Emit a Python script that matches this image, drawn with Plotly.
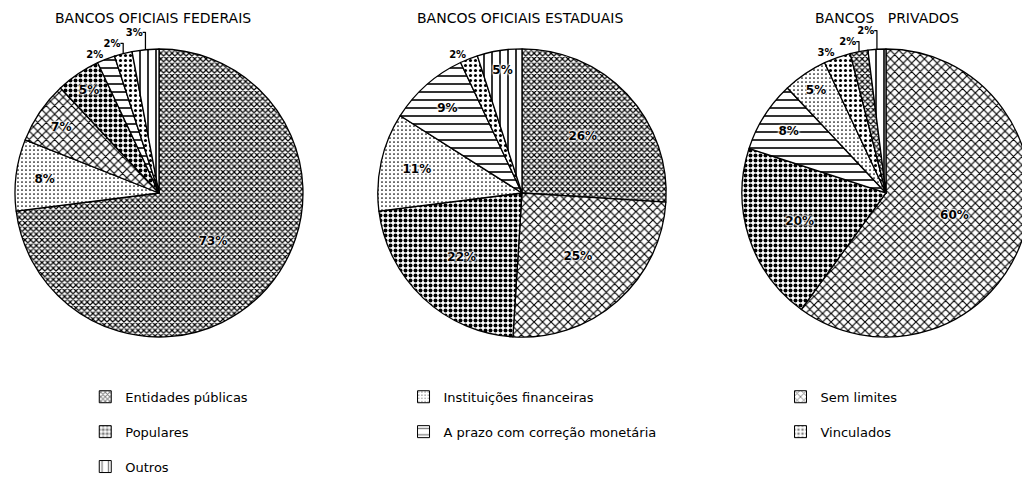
import plotly.graph_objects as go

# Categories (order = clockwise from 12 o'clock in the first chart)
categorias = ['Entidades públicas', 'Instituições financeiras', 'Sem limites',
              'Populares', 'A prazo com correção monetária', 'Vinculados', 'Outros']

# Shares (%) by type of bank
federais_labels = ['Entidades públicas', 'Instituições financeiras', 'Sem limites', 'Populares',
                   'A prazo com correção monetária', 'Vinculados', 'Outros']
federais_values = [73, 8, 7, 5, 2, 2, 3]

estaduais_labels = ['Entidades públicas', 'Sem limites', 'Populares', 'Instituições financeiras',
                    'A prazo com correção monetária', 'Vinculados', 'Outros']
estaduais_values = [26, 25, 22, 11, 9, 2, 5]

privados_labels = ['Sem limites', 'Populares', 'A prazo com correção monetária',
                   'Instituições financeiras', 'Vinculados', 'Entidades públicas', 'Outros']
privados_values = [60, 20, 8, 5, 3, 2, 2]

titulos = ['BANCOS OFICIAIS FEDERAIS', 'BANCOS OFICIAIS ESTADUAIS', 'BANCOS\u00a0\u00a0\u00a0PRIVADOS']

# black & white hatch patterns for each category
padroes = {
    'Entidades públicas': dict(shape='x', size=4, solidity=0.5),
    'Instituições financeiras': dict(shape='.', size=4, solidity=0.15),
    'Sem limites': dict(shape='x', size=6, solidity=0.35),
    'Populares': dict(shape='.', size=5, solidity=0.5),
    'A prazo com correção monetária': dict(shape='-', size=8, solidity=0.2),
    'Vinculados': dict(shape='.', size=5, solidity=0.3),
    'Outros': dict(shape='|', size=8, solidity=0.2),
}


def pattern_for(labels):
    return dict(shape=[padroes[l]['shape'] for l in labels],
                size=[padroes[l]['size'] for l in labels],
                solidity=[padroes[l]['solidity'] for l in labels],
                fgcolor='black', bgcolor='white', fillmode='replace')


def text_pos(values):
    return ['inside' if v >= 5 else 'outside' for v in values]


halo = '0px 0px 2px white, 0px 0px 2px white, 0px 0px 3px white, 0px 0px 3px white'

fig = go.Figure()

pies = [
    (federais_labels, federais_values, [0.0068, 0.2864]),
    (estaduais_labels, estaduais_values, [0.359, 0.639]),
    (privados_labels, privados_values, [0.7126, 0.9922]),
]
for labels, values, xdom in pies:
    fig.add_trace(go.Pie(
        labels=labels, values=values, sort=False, direction='clockwise', rotation=0,
        domain=dict(x=xdom, y=[0.308, 0.918]),
        marker=dict(colors=['white'] * len(values), pattern=pattern_for(labels),
                    line=dict(color='black', width=1.3)),
        texttemplate='%{value}%', textposition=text_pos(values),
        insidetextorientation='horizontal',
        insidetextfont=dict(family='DejaVu Sans', size=12, color='black', weight='bold', shadow=halo),
        outsidetextfont=dict(family='DejaVu Sans', size=10, color='black', weight='bold'),
        showlegend=False, hovertemplate='%{label}: %{value}%<extra></extra>'))

# legend entries (three columns as in the original)
colunas = {
    'legend': ['Entidades públicas', 'Populares', 'Outros'],
    'legend2': ['Instituições financeiras', 'A prazo com correção monetária'],
    'legend3': ['Sem limites', 'Vinculados'],
}
for leg, cats in colunas.items():
    for c in cats:
        p = padroes[c]
        fig.add_trace(go.Bar(
            x=[None], y=[None], name=c, legend=leg, legendgroup=c,
            marker=dict(color='white', line=dict(color='black', width=1),
                        pattern=dict(shape=p['shape'], size=p['size'], solidity=p['solidity'],
                                     fgcolor='black', bgcolor='white'))))

legend_style = dict(orientation='v', yanchor='top', y=0.218, xanchor='left',
                    tracegroupgap=15, bgcolor='rgba(0,0,0,0)',
                    font=dict(family='DejaVu Sans', size=13, color='black'))

title_font = dict(family='DejaVu Sans', size=14, color='black')

fig.update_layout(
    width=1030, height=478,
    margin=dict(l=0, r=0, t=0, b=0, autoexpand=False),
    paper_bgcolor='white', plot_bgcolor='white',
    xaxis=dict(visible=False), yaxis=dict(visible=False),
    legend=dict(legend_style, x=0.075),
    legend2=dict(legend_style, x=0.384),
    legend3=dict(legend_style, x=0.75),
    annotations=[
        dict(text=titulos[0], x=0.141, y=0.98, xref='paper', yref='paper', showarrow=False,
             xanchor='center', yanchor='middle', font=title_font),
        dict(text=titulos[1], x=0.497, y=0.98, xref='paper', yref='paper', showarrow=False,
             xanchor='center', yanchor='middle', font=title_font),
        dict(text=titulos[2], x=0.853, y=0.98, xref='paper', yref='paper', showarrow=False,
             xanchor='center', yanchor='middle', font=title_font),
    ],
)

fig.write_html('out.html')
